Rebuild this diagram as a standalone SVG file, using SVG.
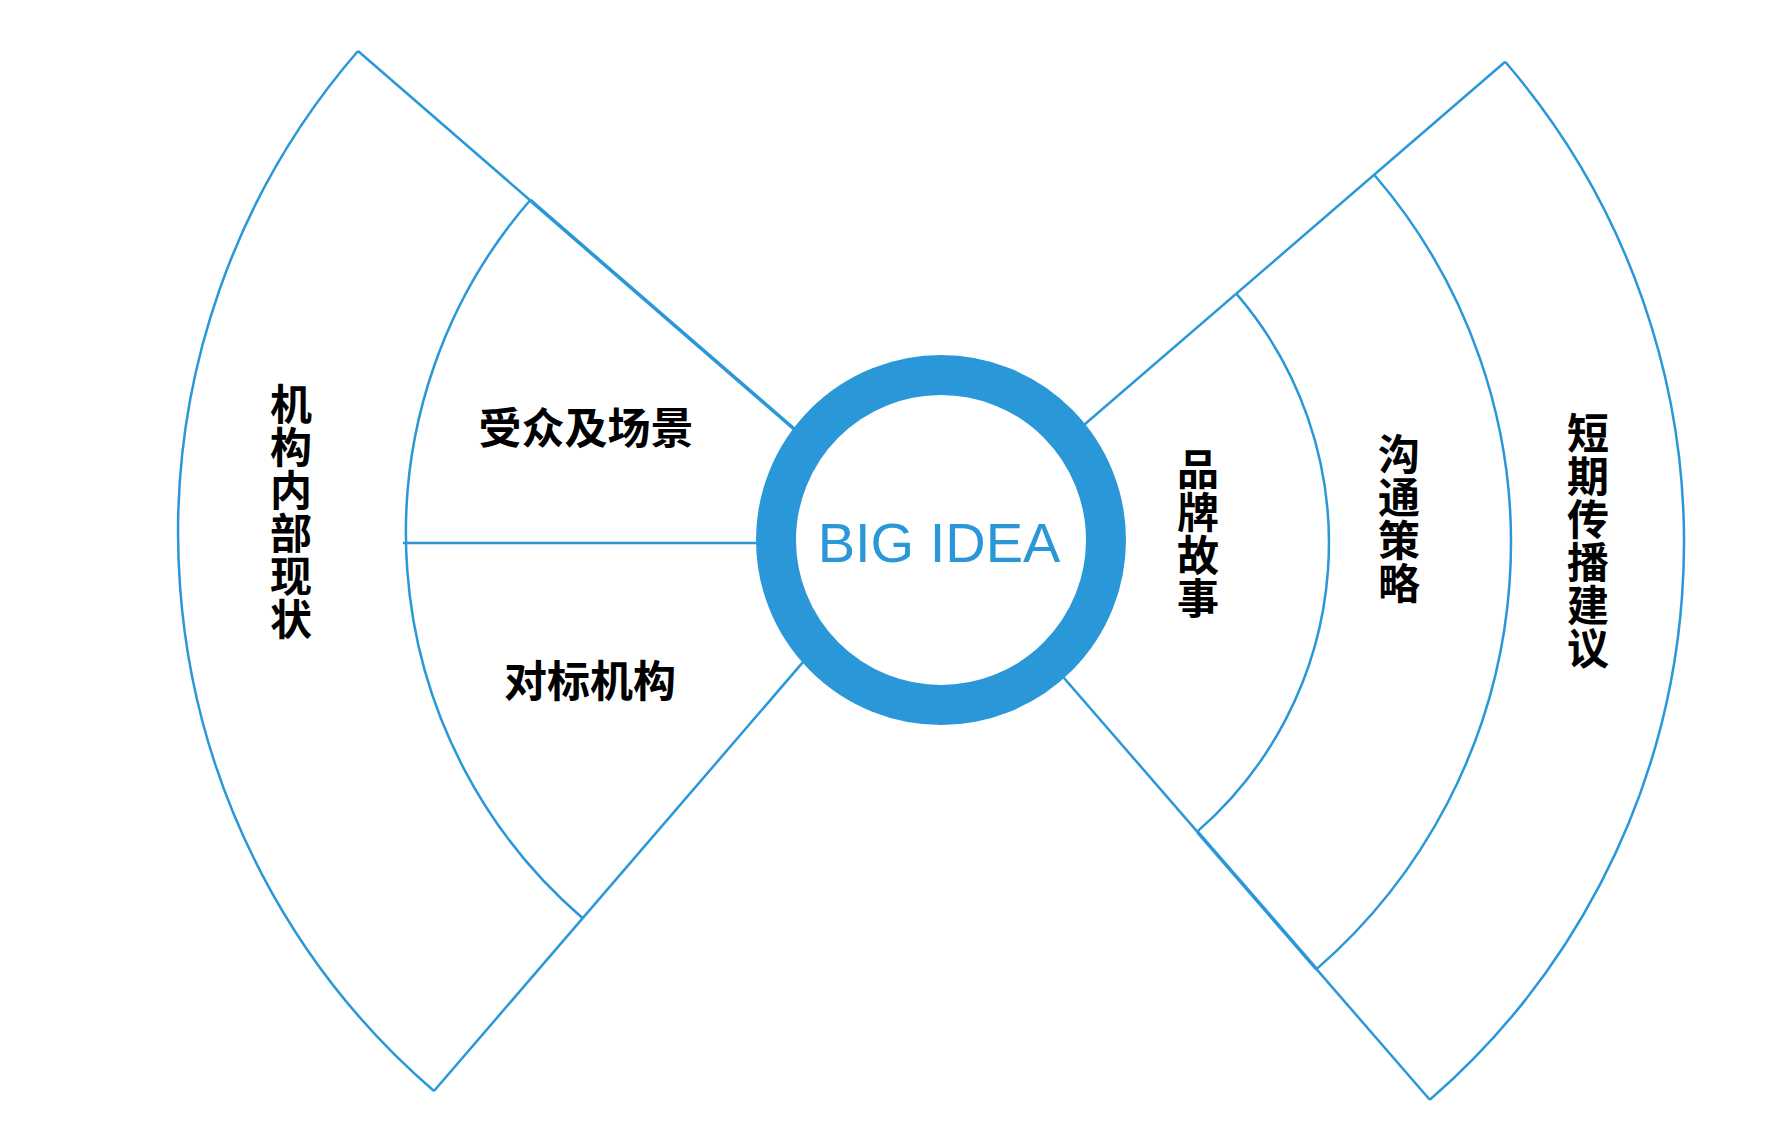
<svg xmlns="http://www.w3.org/2000/svg" width="1772" height="1132" viewBox="0 0 1772 1132">
  <style>
    .ln { stroke: #2a98d8; stroke-width: 2.5; fill: none; stroke-linecap: butt; }
    .lnb { stroke: #2a98d8; stroke-width: 3.6; fill: none; }
    .arc { stroke: #2a98d8; stroke-width: 2.5; fill: none; }
    .lbl { font-family: "Noto Sans CJK SC", "Noto Sans", sans-serif; font-weight: bold; font-size: 42px; fill: #000; }
    .vert { writing-mode: vertical-rl; text-anchor: middle; }
    .hor { text-anchor: middle; dominant-baseline: central; font-size: 43px; }
  </style>
  <rect width="1772" height="1132" fill="#ffffff"/>

  <g id="connectors">
    <line class="ln" x1="358" y1="51" x2="530.1" y2="200.2"/>
    <line class="lnb" x1="530.1" y1="200.2" x2="831" y2="461"/>
    <line class="ln" x1="434" y1="1091" x2="842.3" y2="616.4"/>
    <line class="ln" x1="403" y1="543" x2="790" y2="543"/>
    <line class="ln" x1="1505.2" y1="61.8" x2="1022.7" y2="477.7"/>
    <line class="ln" x1="1012.5" y1="618.6" x2="1197.2" y2="831.6"/>
    <line class="lnb" x1="1197.2" y1="831.6" x2="1316.5" y2="969.1"/>
    <line class="ln" x1="1316.5" y1="969.1" x2="1429.8" y2="1099.8"/>
  </g>

  <g id="node-left-outer">
    <path class="arc" d="M 358 51 A 736 736 0 0 0 434 1091"/>
    <text class="lbl vert" x="291" y="512" letter-spacing="1">机构内部现状</text>
  </g>

  <g id="node-left-inner">
    <path class="arc" d="M 530.1 200.2 A 508 508 0 0 0 582.7 918.2"/>
  </g>

  <g id="node-audience">
    <text class="lbl hor" x="586" y="425">受众及场景</text>
  </g>

  <g id="node-benchmark">
    <text class="lbl hor" x="590" y="678">对标机构</text>
  </g>

  <g id="node-brand-story">
    <path class="arc" d="M 1236.3 293.6 A 382 382 0 0 1 1197.2 831.6"/>
    <text class="lbl vert" x="1198" y="534" letter-spacing="1">品牌故事</text>
  </g>

  <g id="node-communication">
    <path class="arc" d="M 1374.2 174.8 A 564 564 0 0 1 1316.5 969.1"/>
    <text class="lbl vert" x="1399" y="519" letter-spacing="1">沟通策略</text>
  </g>

  <g id="node-short-term">
    <path class="arc" d="M 1505.2 61.8 A 737 737 0 0 1 1429.8 1099.8"/>
    <text class="lbl vert" x="1588" y="541" letter-spacing="1">短期传播建议</text>
  </g>

  <g id="node-big-idea">
    <circle cx="941" cy="540" r="165" fill="#ffffff" stroke="#2a98d8" stroke-width="40"/>
    <text x="939" y="562" text-anchor="middle" font-family="'Liberation Sans', Arial, sans-serif" font-size="56" fill="#2a98d8">BIG IDEA</text>
  </g>
</svg>
